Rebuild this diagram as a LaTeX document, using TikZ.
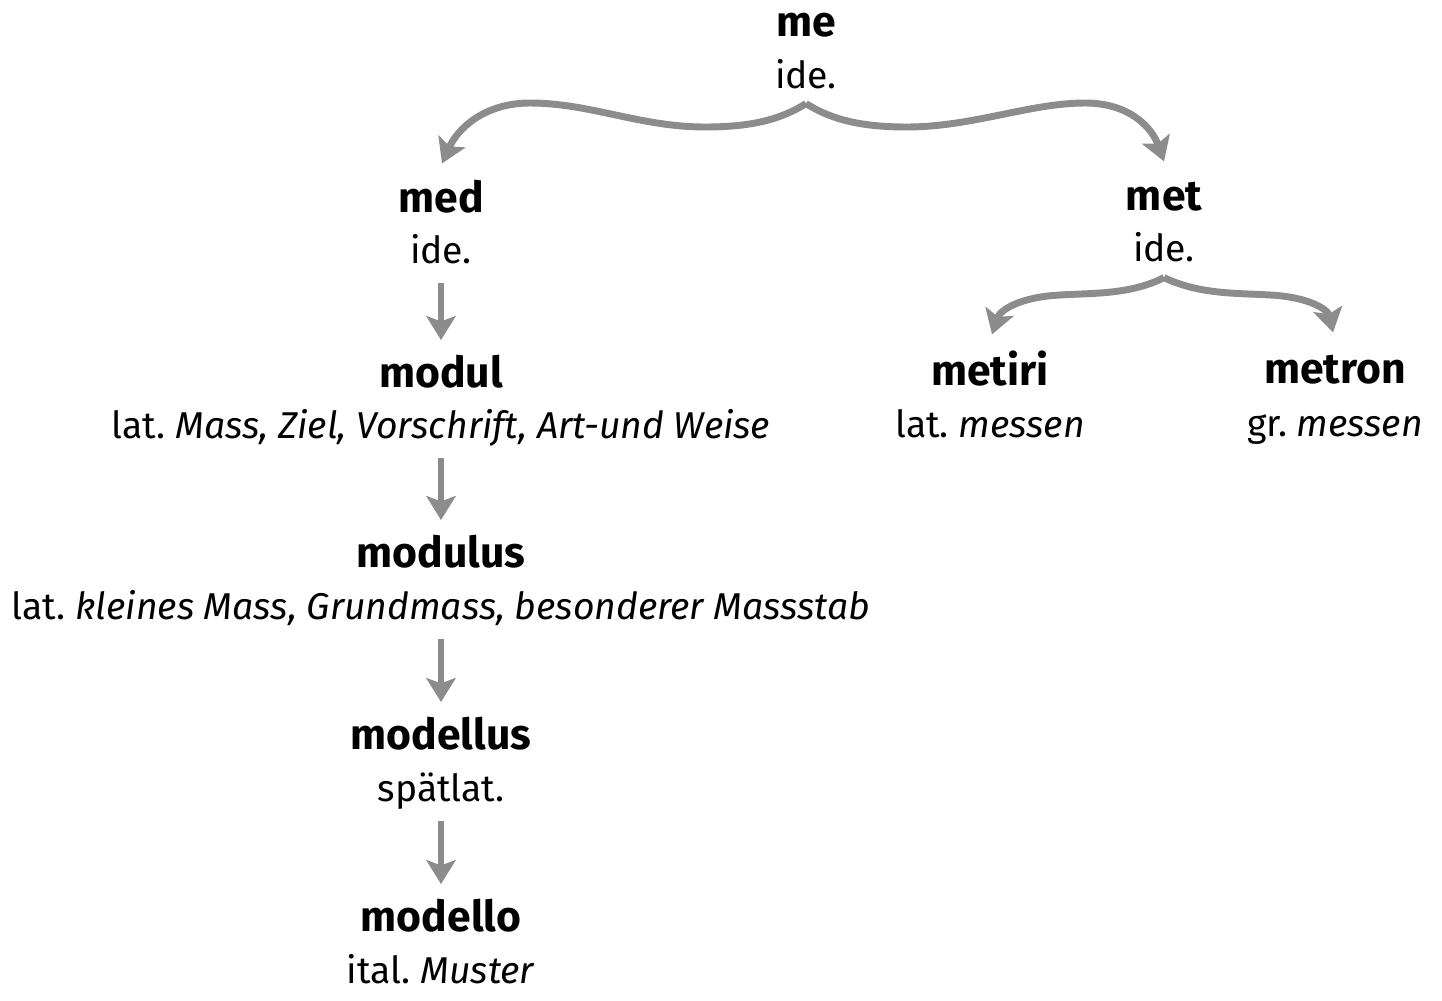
\documentclass[tikz,border=0pt]{standalone}
\usepackage{fontspec}
\setmainfont{Fira Sans}
\usetikzlibrary{arrows.meta,calc}
\definecolor{arrgray}{HTML}{8C8C8C}
\frenchspacing
\tikzset{
  ttl/.style={anchor=base,inner sep=0pt,text height=19pt,text depth=7pt,font=\fontsize{32}{36}\selectfont\bfseries},
  sub/.style={anchor=base,inner sep=0pt,text height=19pt,text depth=7pt,font=\fontsize{28}{32}\selectfont},
  conn/.style={draw=arrgray,line width=5.2pt,-{Stealth[length=18pt,width=22pt,inset=4pt]}},
  vconn/.style={conn,shorten <=8pt,shorten >=16pt},
  brace/.style={draw=arrgray,line width=5.2pt}
}
\begin{document}
\begin{tikzpicture}[x=0.75pt,y=-0.75pt]
\useasboundingbox (0,0) rectangle (1442,1000);
% nodes
\node[ttl] (me) at (806,36) {me};
\node[sub] (mesub) at (806,88) {ide.};
\node[ttl] (med) at (441,212) {med};
\node[sub] (medsub) at (441,263) {ide.};
\node[ttl] (met) at (1164,210) {met};
\node[sub] (metsub) at (1164,261) {ide.};
\node[ttl] (modul) at (441,387) {modul};
\node[sub] (modulsub) at (441,438) {lat. \textit{Mass, Ziel, Vorschrift, Art-und Weise}};
\node[ttl] (metiri) at (990,385) {metiri};
\node[sub] (metirisub) at (990,437) {lat. \textit{messen}};
\node[ttl] (metron) at (1335,383) {metron};
\node[sub] (metronsub) at (1335,436) {gr. \textit{messen}};
\node[ttl] (modulus) at (441,567) {modulus};
\node[sub] (modulussub) at (441,619) {lat. \textit{kleines Mass, Grundmass, besonderer Massstab}};
\node[ttl] (modellus) at (441,749) {modellus};
\node[sub] (modellussub) at (441,801) {spätlat.};
\node[ttl] (modello) at (441,931) {modello};
\node[sub] (modellosub) at (441,983) {ital. \textit{Muster}};
% vertical arrows
\draw[vconn] (medsub.south) -- (modul.north);
\draw[vconn] (modulsub.south) -- (modulus.north);
\draw[vconn] (modulussub.south) -- (modellus.north);
\draw[vconn] (modellussub.south) -- (modello.north);
% top brace
\coordinate (apex) at ($(mesub.south)+(0,6)$);
\coordinate (medin) at ($(med.north)+(1,-23)$);
\coordinate (metin) at ($(met.north)+(0,-23)$);
\draw[brace] (apex) .. controls (780,120) and (750,127) .. (705,127)
  .. controls (640,127) and (590,103) .. (530,103);
\draw[conn] (530,103) .. controls (485,103) and (458,128) .. (medin);
\draw[brace] (apex) .. controls (832,120) and (862,127) .. (907,127)
  .. controls (972,127) and (1030,103) .. (1085,103);
\draw[conn] (1085,103) .. controls (1130,103) and (1152,128) .. (metin);
% met brace
\coordinate (apex2) at ($(metsub.south)+(0,7)$);
\coordinate (metiriin) at ($(metiri.north)+(2,-25)$);
\coordinate (metronin) at ($(metron.north)+(-2,-25)$);
\draw[brace] (apex2) .. controls (1130,295) and (1090,293) .. (1060,295);
\draw[conn] (1060,295) .. controls (1020,297) and (1000,310) .. (metiriin);
\draw[brace] (apex2) .. controls (1200,295) and (1240,293) .. (1270,295);
\draw[conn] (1270,295) .. controls (1310,297) and (1328,310) .. (metronin);
\end{tikzpicture}
\end{document}
